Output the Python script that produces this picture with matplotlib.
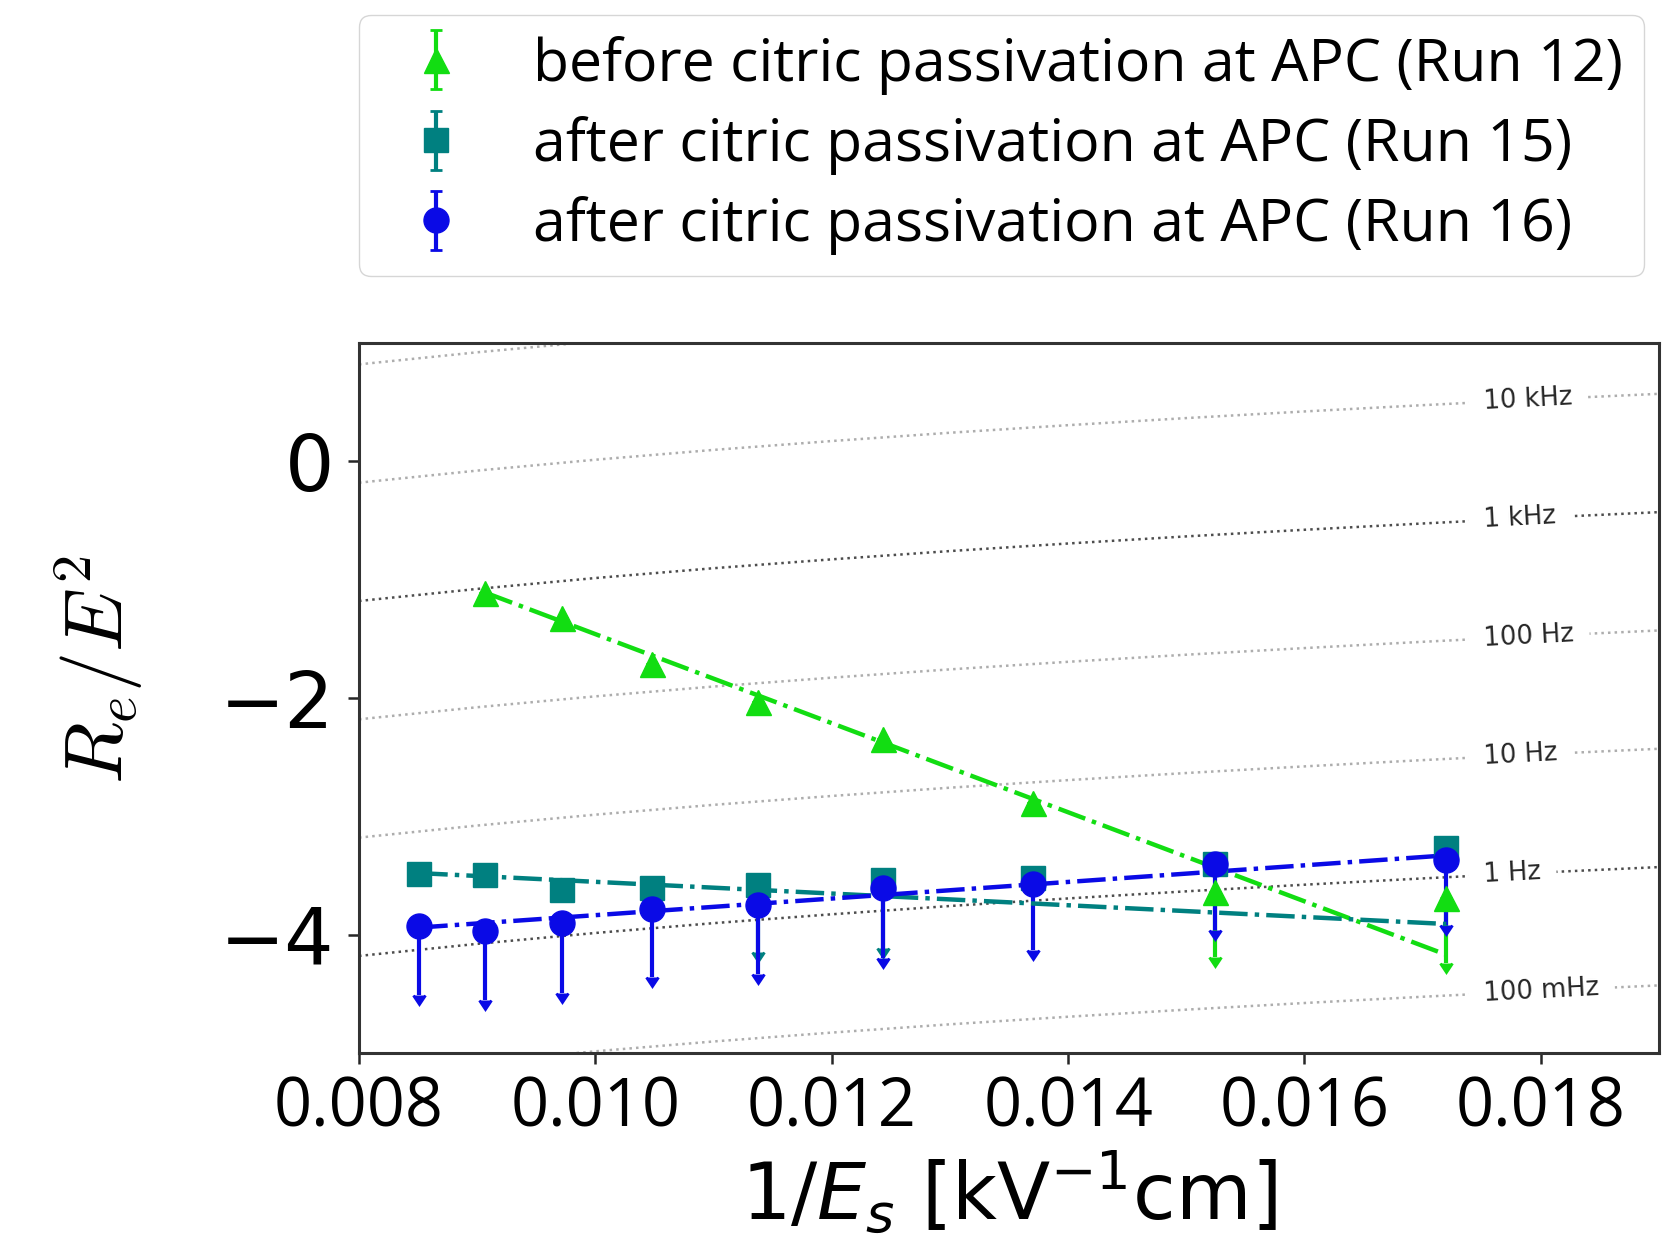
import numpy as np
import matplotlib
matplotlib.use('Agg')
import matplotlib.pyplot as plt

plt.rcParams['font.family'] = ['Open Sans', 'DejaVu Sans']
plt.rcParams['mathtext.fontset'] = 'custom'
plt.rcParams['mathtext.rm'] = 'Open Sans'
plt.rcParams['mathtext.it'] = 'Open Sans:italic'

# measured points, 1/E_s [kV^-1 cm]
x_field = [0.00851, 0.00907, 0.00972, 0.01048, 0.01138, 0.01243, 0.01370, 0.01524, 0.01720]

# Run 12 (no point at the highest field)
run12_x = x_field[1:]
run12_y = [-1.11, -1.32, -1.71, -2.03, -2.35, -2.89, -3.64, -3.69]
run12_err = [0, 0, 0, 0, 0, 0, 0.55, 0.55]
run12_lim = [False, False, False, False, False, False, True, True]

# Run 15
run15_y = [-3.49, -3.50, -3.62, -3.61, -3.58, -3.54, -3.52, -3.40, -3.27]
run15_err = [0, 0, 0, 0, 0.57, 0.57, 0, 0, 0]
run15_lim = [False, False, False, False, True, True, False, False, False]

# Run 16 (all upper limits)
run16_y = [-3.93, -3.97, -3.90, -3.78, -3.75, -3.61, -3.57, -3.40, -3.37]
run16_err = [0.58, 0.58, 0.59, 0.58, 0.58, 0.59, 0.56, 0.56, 0.55]
run16_lim = [True] * 9

# straight fits (end points)
fit12_x = [0.00907, 0.01720]
fit12_y = [-1.11, -4.17]
fit15_x = [0.00851, 0.01720]
fit15_y = [-3.48, -3.91]
fit16_x = [0.00851, 0.01720]
fit16_y = [-3.94, -3.33]

# constant-frequency guide curves: 1 kHz curve, others shifted by decades
guide_x = [0.008, 0.009, 0.010, 0.011, 0.012, 0.013, 0.014, 0.015, 0.016, 0.017, 0.018, 0.019]
guide_1khz = [-1.180, -1.078, -0.986, -0.903, -0.828, -0.758, -0.694, -0.634, -0.578, -0.525, -0.475, -0.429]
guide_shift = [2, 1, 0, -1, -2, -3, -4]
guide_labels = ['100 kHz', '10 kHz', '1 kHz', '100 Hz', '10 Hz', '1 Hz', '100 mHz']
guide_dark = [False, False, True, False, False, True, False]

fig = plt.figure(figsize=(16.8, 12.43), dpi=100)
ax = fig.add_axes([0.2137, 0.1529, 0.7738, 0.5711])

label_x = 0.01752
for shift, lab, dark in zip(guide_shift, guide_labels, guide_dark):
    gy = np.array(guide_1khz) + shift
    col = '0.3' if dark else '0.68'
    ax.plot(guide_x, gy, ls=':', color=col, lw=1.8, zorder=1)
    ly = np.interp(label_x, guide_x, gy)
    if ly < 1.0:
        ax.text(label_x, ly, lab, fontsize=18.5, family='DejaVu Sans', color='0.15',
                ha='left', va='center', rotation=3, rotation_mode='anchor',
                bbox=dict(fc='white', ec='none', pad=11), zorder=1.5)

green = '#12dd12'
teal = '#008080'
blue = '#0a0ae6'

ax.errorbar(run12_x, run12_y, yerr=run12_err, uplims=run12_lim, fmt='^', color=green,
            ms=18, elinewidth=3, capsize=4.5, capthick=2,
            label='before citric passivation at APC (Run 12)')
ax.errorbar(x_field, run15_y, yerr=run15_err, uplims=run15_lim, fmt='s', color=teal,
            ms=17, elinewidth=3, capsize=4.5, capthick=2,
            label='after citric passivation at APC (Run 15)')
ax.errorbar(x_field, run16_y, yerr=run16_err, uplims=run16_lim, fmt='o', color=blue,
            ms=18, elinewidth=3, capsize=4.5, capthick=2,
            label='after citric passivation at APC (Run 16)')

ax.plot(fit12_x, fit12_y, '-.', color=green, lw=3.2, zorder=2.05)
ax.plot(fit15_x, fit15_y, '-.', color=teal, lw=3.2, zorder=2.05)
ax.plot(fit16_x, fit16_y, '-.', color=blue, lw=3.2, zorder=2.05)

ax.set_xlim(0.008, 0.019)
ax.set_ylim(-5, 1)
ax.set_xticks([0.008, 0.010, 0.012, 0.014, 0.016, 0.018])
ax.set_xticklabels(['0.008', '0.010', '0.012', '0.014', '0.016', '0.018'])
ax.set_yticks([-4, -2, 0])
ax.tick_params(length=8, width=1.8, color='0.15')
ax.tick_params(axis='x', labelsize=48, pad=8)
ax.tick_params(axis='y', labelsize=56, pad=10, labelfontfamily='DejaVu Sans')
for sp in ax.spines.values():
    sp.set_linewidth(2.2)
    sp.set_color('0.2')

ax.set_xlabel(r'1/$E_s$ [kV$^{-1}$cm]', fontsize=56, family='DejaVu Sans',
              math_fontfamily='dejavusans', labelpad=4)
ax.set_ylabel(r'$R_e/E^2$', fontsize=58, math_fontfamily='cm')
ax.yaxis.set_label_coords(-0.165, 0.54)

fig.legend(loc='upper left', bbox_to_anchor=(359 / 1680, 1 - 15 / 1243),
           borderaxespad=0, fontsize=42.5, handlelength=1.9, handletextpad=0.7,
           borderpad=0.35, labelspacing=0.36, framealpha=0.8, edgecolor='0.8')

fig.savefig('out.png', dpi=100)
